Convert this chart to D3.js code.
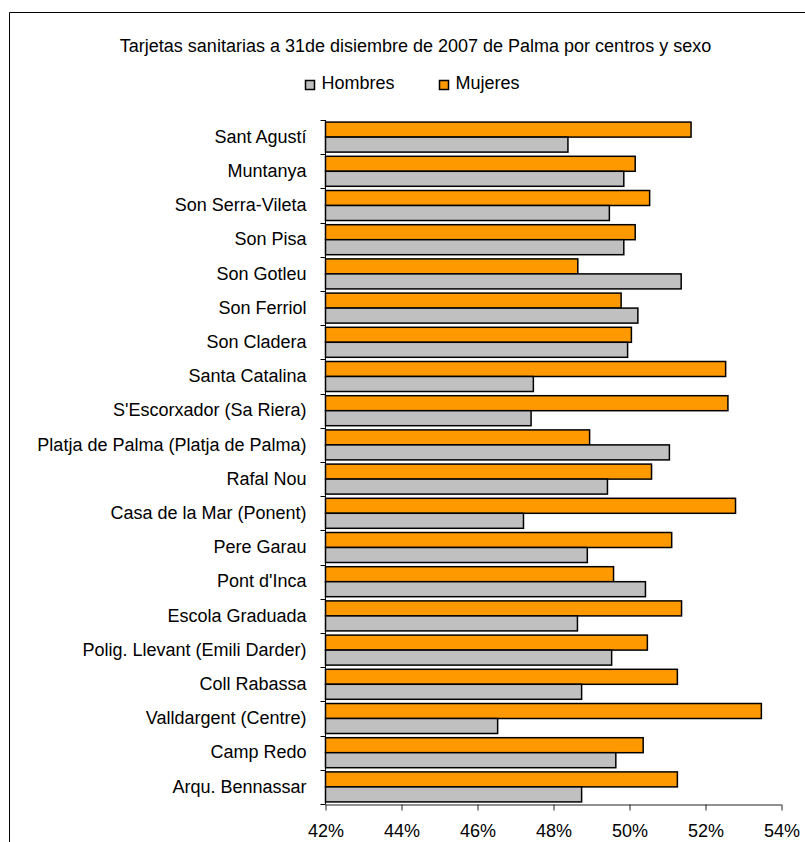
<!DOCTYPE html>
<html>
<head>
<meta charset="utf-8">
<script src="https://cdn.jsdelivr.net/npm/d3@7"></script>
<style>
  html, body { margin: 0; padding: 0; background: #fff; }
  svg { display: block; font-family: "Liberation Sans", Arial, sans-serif; }
</style>
</head>
<body>
<svg id="chart" width="805" height="842"></svg>
<script>
const title = "Tarjetas sanitarias a 31de disiembre de 2007 de Palma por centros y sexo";
const categories = [
  "Sant Agustí", "Muntanya", "Son Serra-Vileta", "Son Pisa", "Son Gotleu",
  "Son Ferriol", "Son Cladera", "Santa Catalina", "S'Escorxador (Sa Riera)",
  "Platja de Palma (Platja de Palma)", "Rafal Nou", "Casa de la Mar (Ponent)",
  "Pere Garau", "Pont d'Inca", "Escola Graduada", "Polig. Llevant (Emili Darder)",
  "Coll Rabassa", "Valldargent (Centre)", "Camp Redo", "Arqu. Bennassar"
];
const mujeres = [51.62, 50.15, 50.53, 50.15, 48.64, 49.78, 50.05, 52.53, 52.59, 48.95,
                 50.58, 52.79, 51.11, 49.58, 51.37, 50.47, 51.26, 53.47, 50.36, 51.26];
const hombres = [48.38, 49.85, 49.47, 49.85, 51.36, 50.22, 49.95, 47.47, 47.41, 51.05,
                 49.42, 47.21, 48.89, 50.42, 48.63, 49.53, 48.74, 46.53, 49.64, 48.74];
const seriesNames = ["Hombres", "Mujeres"];
const seriesColors = ["#C0C0C0", "#FF9900"];
const xTicks = [42, 44, 46, 48, 50, 52, 54];

const FONT = 18;
const svg = d3.select("#chart");

// frame
svg.append("path")
  .attr("d", "M9.5,845 V12.5 H810")
  .attr("fill", "none").attr("stroke", "#000").attr("stroke-width", 1);

const x = d3.scaleLinear().domain([42, 54]).range([325.5, 781.5]);
const y0 = d3.scaleBand().domain(categories).range([120, 804]).padding(0);
const y1 = d3.scaleBand().domain(["Mujeres", "Hombres"]).range([0, y0.bandwidth()])
  .paddingInner(0).paddingOuter(0.14);

// title
svg.append("text")
  .attr("x", 415.5).attr("y", 52)
  .attr("text-anchor", "middle")
  .attr("font-size", FONT).attr("fill", "#000")
  .text(title);

// legend
const legendItems = [
  {name: seriesNames[0], color: seriesColors[0], x: 305.5},
  {name: seriesNames[1], color: seriesColors[1], x: 439.5}
];
const lg = svg.append("g");
legendItems.forEach(it => {
  lg.append("rect").attr("x", it.x).attr("y", 80.5).attr("width", 9).attr("height", 9)
    .attr("fill", it.color).attr("stroke", "#000").attr("stroke-width", 1.5);
  lg.append("text").attr("x", it.x + 16).attr("y", 89)
    .attr("font-size", FONT).attr("fill", "#000").text(it.name);
});

// bars
const rows = categories.map((c, i) => ({c, values: [
  {s: "Mujeres", v: mujeres[i], color: seriesColors[1]},
  {s: "Hombres", v: hombres[i], color: seriesColors[0]}
]}));

const g = svg.append("g");
g.selectAll("g.row").data(rows).join("g")
  .attr("class", "row")
  .attr("transform", d => `translate(0,${y0(d.c)})`)
  .selectAll("rect").data(d => d.values).join("rect")
  .attr("x", x(42))
  .attr("y", d => y1(d.s))
  .attr("width", d => x(d.v) - x(42))
  .attr("height", y1.bandwidth())
  .attr("fill", d => d.color)
  .attr("stroke", "#000").attr("stroke-width", 1.5);

// y axis labels
const yAxis = d3.axisLeft(y0).tickSize(0).tickPadding(19);
const ya = svg.append("g").attr("transform", `translate(${x(42)},0)`).call(yAxis);
ya.select(".domain").remove();
ya.selectAll("text").attr("font-size", FONT).attr("fill", "#000")
  .attr("font-family", "'Liberation Sans', Arial, sans-serif");

// y axis line and boundary ticks
const boundaries = categories.map(c => y0(c)).concat([y0.range()[1]]);
svg.append("line").attr("x1", x(42)).attr("x2", x(42))
  .attr("y1", 120).attr("y2", 804).attr("stroke", "#000");
svg.selectAll("line.ytick").data(boundaries).join("line")
  .attr("class", "ytick")
  .attr("x1", x(42) - 5).attr("x2", x(42))
  .attr("y1", d => Math.round(d) + 0.5).attr("y2", d => Math.round(d) + 0.5)
  .attr("stroke", "#000");

// x axis
const xAxis = d3.axisBottom(x).tickValues(xTicks).tickSize(6).tickPadding(14)
  .tickFormat(d => d + "%");
const xa = svg.append("g").attr("transform", "translate(0,804.5)").call(xAxis);
xa.select(".domain").attr("stroke", "#222").attr("d", `M${x(42)},0.5H${x(54)}`);
xa.selectAll(".tick line").attr("stroke", "#222");
xa.selectAll("text").attr("font-size", FONT).attr("fill", "#000")
  .attr("font-family", "'Liberation Sans', Arial, sans-serif");
</script>
</body>
</html>
